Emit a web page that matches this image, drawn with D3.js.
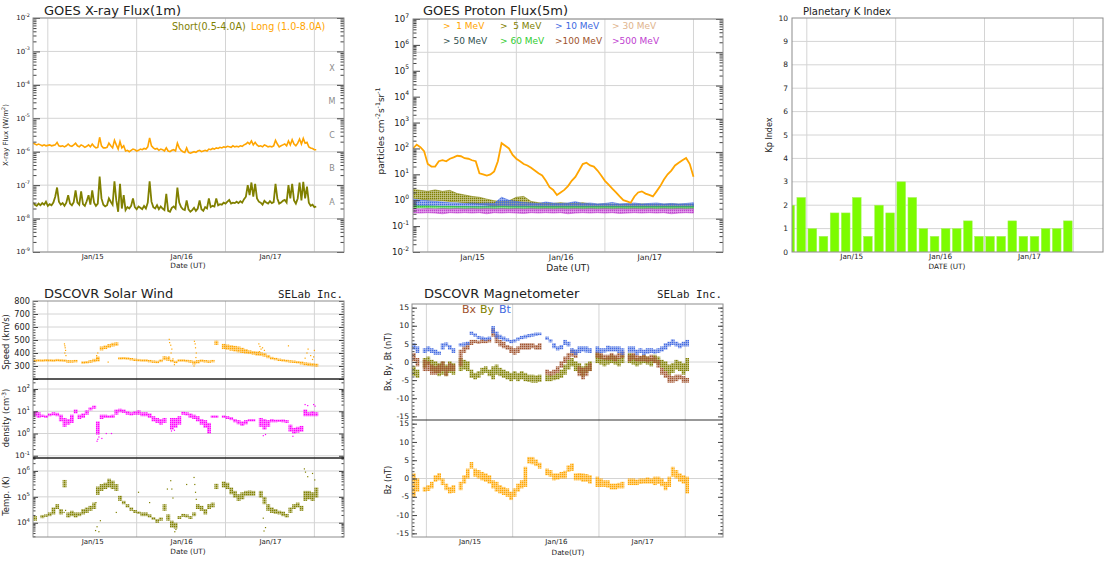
<!DOCTYPE html>
<html>
<head>
<meta charset="utf-8">
<script src="https://cdn.jsdelivr.net/npm/d3@7"></script>
<style>
body { margin: 0; background: #fff; }
svg text { font-family: "DejaVu Sans", sans-serif; fill: #222; }
</style>
</head>
<body>
<svg id="chart" width="1112" height="563"></svg>
<script>
// all series start Jan 14 20:00 UT, hour offsets from there
var T0 = Date.UTC(2018, 0, 14, 20);
function tAt(h) { return new Date(T0 + h * 3600e3); }

// GOES x-ray, every 30 min (short in 1e-8 W/m2, long in 1e-6 W/m2)
var xrayShort = [3.0,2.6,2.4,2.8,2.5,2.9,2.6,3.2,2.4,2.7,
  2.5,3.0,4.5,8.5,3.2,2.6,2.9,2.4,3.0,5.0,
  2.8,2.5,3.1,7.0,3.0,2.6,6.5,2.7,2.4,3.3,
  5.0,2.6,7.0,3.0,2.4,2.8,18,4.0,2.6,2.3,
  2.5,4.0,3.2,2.6,13,3.5,1.6,11,2.0,5.0,
  1.8,2.2,2.0,2.4,4.0,2.2,1.9,2.3,2.1,1.9,
  2.4,2.0,3.0,13,3.2,2.2,2.0,2.5,1.9,2.3,
  2.0,1.8,5.5,1.7,1.6,2.1,2.3,2.0,8.5,3.0,
  2.2,1.9,1.8,3.5,1.9,1.6,1.8,2.1,1.7,2.0,
  3.5,1.9,1.7,2.2,2.0,4.0,2.2,2.4,2.3,4.0,
  2.5,2.7,2.6,3.0,2.8,3.2,3.6,2.8,3.0,2.9,
  3.2,2.9,3.3,3.0,3.8,4.5,10,5.0,12,4.5,
  11,4.0,3.2,3.0,2.6,3.4,3.0,2.8,3.3,2.9,
  3.1,11,4.0,2.8,3.0,3.4,3.6,3.0,10,4.0,
  11,3.5,2.8,4.0,12,3.5,12.5,4.0,9.0,3.0,
  2.4,2.6,2.2,2.3];
var xrayLong = [1.8,1.7,1.6,1.7,1.6,1.5,1.6,1.5,1.55,1.6,
  1.5,1.55,1.6,1.9,1.5,1.45,1.5,1.4,1.5,1.7,
  1.5,1.45,1.6,1.8,1.5,1.4,1.6,1.5,1.35,1.45,
  1.6,1.4,1.7,1.45,1.3,1.35,2.7,1.5,1.3,1.3,
  1.35,1.8,1.5,1.3,2.2,1.6,1.2,2.0,1.3,1.5,
  1.05,1.1,1.0,1.1,1.2,1.15,1.05,1.1,1.2,1.15,
  1.25,1.2,1.4,2.6,1.5,1.3,1.2,1.25,1.1,1.2,
  1.15,1.05,1.3,1.05,1.0,1.1,1.15,1.05,1.8,1.3,
  1.1,1.0,0.95,1.3,0.95,0.9,0.95,1.0,0.95,1.05,
  1.1,1.0,1.05,1.1,1.05,1.2,1.15,1.25,1.2,1.3,
  1.25,1.35,1.3,1.4,1.35,1.45,1.4,1.35,1.5,1.4,
  1.45,1.4,1.5,1.45,1.6,1.7,1.9,1.7,2.1,1.6,
  1.9,1.6,1.45,1.5,1.4,1.6,1.5,1.4,1.45,1.4,
  1.5,2.2,1.7,1.4,1.5,1.6,1.7,1.5,2.1,1.6,
  2.3,1.7,1.5,1.8,2.4,1.7,2.5,1.8,1.9,1.4,
  1.3,1.25,1.15,1.15];
var xrayClasses = ["A", "B", "C", "M", "X"];

// GOES proton >1 MeV, hourly
var p1 = [100,141,112,79,25,20,20,32,35,32,
  40,45,52,50,42,40,35,32,11,10,
  9,10,13,32,160,126,100,56,40,32,
  25,22,18,14,11,9,5.6,3.2,2.5,1.6,
  2.0,2.5,3.5,5.6,8,14,25,28,22,20,
  14,9,5.6,4,2.8,2.0,1.4,1.0,0.9,0.8,
  1.4,2.0,2.2,1.8,1.6,1.4,2.2,3.5,6.3,10,
  14,22,28,35,43,25,8];
// other channels, 2-hourly low/high of the noisy trace
var p5Lo = [1.2,1.1,1.0,1.0,0.95,0.9,0.85,0.8,0.75,0.7,0.65,0.6,0.58,0.58,0.58,0.58,0.56,0.55,0.55,0.55,0.55,0.55,0.55,0.55,0.55,0.55,0.55,0.55,0.55,0.55,0.55,0.55,0.55,0.55,0.55,0.55,0.55,0.55,0.55];
var p5Hi = [2.6,2.4,2.2,2.5,2.2,2.4,1.8,1.6,1.4,1.3,1.1,0.95,0.9,0.95,1.3,1.4,0.9,0.8,0.75,0.75,0.8,0.75,0.75,0.8,0.72,0.7,0.72,0.7,0.7,0.7,0.7,0.72,0.7,0.7,0.7,0.72,0.7,0.7,0.7];
var p10Lo = [0.6,0.6,0.6,0.58,0.56,0.56,0.55,0.55,0.55,0.55,0.55,0.55,0.56,0.56,0.55,0.55,0.55,0.55,0.55,0.55,0.55,0.55,0.55,0.55,0.55,0.55,0.55,0.55,0.55,0.55,0.55,0.55,0.55,0.55,0.55,0.55,0.55,0.55,0.55];
var p10Hi = [1.1,1.0,0.95,0.9,0.85,0.8,0.78,0.75,0.78,0.75,0.78,0.75,1.3,1.0,0.9,0.82,0.78,0.75,0.85,0.78,0.75,0.78,0.88,0.75,0.78,0.72,0.75,0.82,0.72,0.75,0.78,0.72,0.75,0.78,0.72,0.75,0.72,0.75,0.8];
var p60Lo = [0.5,0.5,0.49,0.49,0.48,0.48,0.48,0.47,0.47,0.47,0.47,0.47,0.47,0.47,0.47,0.47,0.47,0.47,0.47,0.47,0.47,0.47,0.47,0.47,0.47,0.47,0.47,0.47,0.47,0.47,0.47,0.47,0.47,0.47,0.47,0.47,0.47,0.47,0.47];
var p60Hi = [0.62,0.6,0.6,0.59,0.58,0.58,0.57,0.57,0.56,0.56,0.56,0.56,0.57,0.56,0.56,0.56,0.56,0.56,0.56,0.56,0.56,0.56,0.56,0.56,0.56,0.56,0.56,0.56,0.56,0.56,0.56,0.56,0.56,0.56,0.56,0.56,0.56,0.56,0.56];
var p500Lo = [0.33,0.32,0.33,0.32,0.3,0.33,0.32,0.33,0.32,0.33,0.3,0.33,0.32,0.33,0.32,0.31,0.33,0.32,0.33,0.32,0.33,0.3,0.32,0.33,0.32,0.33,0.32,0.33,0.31,0.32,0.33,0.32,0.33,0.32,0.33,0.3,0.32,0.33,0.32];
var p500Hi = [0.47,0.46,0.47,0.46,0.47,0.46,0.47,0.46,0.47,0.46,0.47,0.46,0.47,0.46,0.47,0.46,0.47,0.46,0.47,0.46,0.47,0.46,0.47,0.46,0.47,0.46,0.47,0.46,0.47,0.46,0.47,0.46,0.47,0.46,0.47,0.46,0.47,0.46,0.47];
var protonLabels = [">\u00a0\u00a01 MeV", ">\u00a0\u00a05 MeV", "> 10 MeV", "> 30 MeV",
                    "> 50 MeV", "> 60 MeV", ">100 MeV", ">500 MeV"];
var protonColors = ["#ffa500", "#808000", "#4169e1", "#e0b48c",
                    "#2f4f4f", "#32cd32", "#a0522d", "#c040d0"];

// planetary K index, 3-hour bins starting Jan 14 18:00
var kp = [2, 2.33, 1, 0.67, 1.67, 1.67, 2.33, 0.67, 2, 1.67,
          3, 2.33, 1, 0.67, 1, 1, 1.33, 0.67, 0.67, 0.67,
          1.33, 0.67, 0.67, 1, 1, 1.33];

// DSCOVR solar wind, hourly low/high of the scatter (null = no data)
var speedLo = [330,335,335,338,336,335,338,336,332,325,
  328,330,null,318,320,325,330,335,420,430,
  440,450,455,350,352,350,345,340,338,335,
  335,330,325,322,330,345,340,330,322,335,
  335,330,325,312,320,330,328,325,330,462,
  null,430,425,418,412,405,400,395,392,388,
  380,378,372,360,350,345,340,335,330,328,
  325,320,312,305,300,298,295];
var speedHi = [350,350,348,350,350,348,352,350,350,345,
  342,345,null,335,338,345,355,372,450,458,
  468,478,482,368,368,365,360,355,352,350,
  350,345,342,340,350,375,370,348,340,350,
  350,348,345,340,345,350,345,342,345,495,
  null,470,465,460,455,450,440,430,420,415,
  412,405,400,385,370,362,355,352,348,342,
  340,338,335,328,325,322,318];
var speedOut = [[8.5,470],[8.6,455],[8.7,440],[8.8,420],[8.6,400],[8.9,380],[20.3,330],[17.2,380],
  [17.5,400],[17.4,360],[36.8,505],[36.9,480],[37.2,460],[37.5,430],[37.3,400],[36.7,370],
  [37.8,355],[38.2,310],[43.6,490],[43.8,470],[43.9,440],[44.1,400],[44.0,365],[43.5,300],
  [61,470],[61.3,450],[61.6,430],[61.2,410],[62,440],[62.5,420],[73.5,360],[74,400],
  [74.3,430],[75,380],[75.5,350],[76,420],[75.8,370],[69,455]];
var densLo = [6,5,5.5,5,6,6.5,6,3.5,2,2.5, 3,8,4.5,5,7,11,13,0.9,4.5,5,
  5,5,7,9,8.5,7,6.5,7,7,6, 6,5,3.5,3,2.5,3,null,1.5,1.8,2.5,
  7,6.5,5,4.5,3.5,2.5,1.8,1.0,5,5, null,5,4.5,4,3.2,2.6,2.2,2.6,3.5,3.5,
  null,2,1.5,2,3.2,3.2,3.3,3.2,3,1.2, 1.0,1.1,1.2,6,6,6,6];
var densHi = [10,9,7,6.5,8,9,8.5,7,5,4.5, 7,12,7,8,11,15,18,3.5,7,7,
  6.5,7,12,13,12,10,9,10,11,9, 9,8,6,5,4.5,5,null,5,5,6,
  9.5,9,8,7,6,4.5,4,3,6.5,6.5, null,6.5,6,5.5,4.5,4,3.5,4,4.5,4.5,
  null,5,4.5,4,4.5,4.2,4.2,4.3,4,2.5, 1.8,2,2.2,12,9,10,9];
var densOut = [[17.3,0.45],[17.5,0.55],[17.8,0.7],[18.6,0.6],[19.8,1.0],[21.2,1.0],[37.4,1.3],
  [38.2,1.4],[62.2,0.8],[62.8,0.9],[73.5,20],[74.2,18],[75.8,20],[76.2,17],[70.2,0.75]];
var tempLo = [12000,null,15000,17000,18000,21000,34000,21000,230000,16000,
  18000,16000,18000,21000,24000,29000,34000,120000,170000,200000,
  230000,200000,170000,70000,52000,39000,29000,24000,22000,18000,
  18000,16000,13000,10000,12000,29000,12000,6500,6000,14000,
  17000,16000,14000,18000,34000,29000,21000,34000,39000,200000,
  null,230000,200000,126000,93000,70000,80000,110000,110000,110000,
  null,93000,52000,29000,24000,22000,21000,18000,16000,24000,
  34000,39000,29000,70000,80000,70000,93000];
var tempHi = [18000,null,20000,21000,25000,39000,52000,34000,450000,25000,
  29000,25000,25000,34000,39000,45000,60000,250000,310000,350000,
  500000,420000,310000,110000,70000,52000,39000,31000,27000,25000,
  25000,21000,16500,14000,16000,52000,21000,12000,10000,18000,
  22000,21000,18000,25000,52000,45000,34000,52000,60000,320000,
  null,390000,350000,230000,170000,126000,150000,170000,175000,170000,
  null,170000,100000,52000,39000,34000,29000,27000,22000,39000,
  52000,60000,45000,170000,170000,150000,230000];
var tempOut = [[8.4,25000],[8.8,30000],[16.9,5000],[17.3,7000],[17.8,4500],[18.2,12000],[17,60000],
  [22.5,25000],[37.2,420000],[37.5,200000],[37.8,90000],[38.3,4500],[38.6,5500],[43.5,560000],
  [43.7,300000],[43.9,150000],[44.1,80000],[62.4,4800],[62.8,6500],[62.2,15000],[73.3,1200000],
  [73.6,900000],[74.2,600000],[75.5,800000],[76.1,450000],[28.5,150000],[31.5,60000],
  [41.5,300000],[36.3,200000]];

// DSCOVR magnetometer, hourly low/high in nT
var btLo = [3.4,2.5,null,2.5,2.9,2.5,2.0,2.0,3.4,4.3, 3.4,2.5,null,4.3,4.3,4.7,7.5,7.0,6.3,6.1,
  5.9,6.1,7.9,6.5,6.3,5.9,5.6,5.2,5.4,5.9, 6.3,6.5,6.8,7.0,7.2,7.4,null,6.1,5.4,3.8,
  3.2,3.5,4.7,4.3,2.5,2.0,2.5,2.9,2.6,2.5, null,2.6,2.5,2.6,2.9,2.9,2.9,2.5,2.0,null,
  2.6,2.6,2.0,2.5,2.0,2.3,2.5,2.3,2.5,2.9, 3.4,4.3,4.7,4.3,3.8,4.3,4.3];
var btHi = [5.2,4.3,null,3.8,4.3,3.8,3.4,2.9,5.2,5.4, 4.7,3.8,null,5.2,5.4,5.6,8.4,7.9,7.2,7.0,
  6.8,7.0,9.9,8.4,7.5,7.0,6.5,6.1,6.3,6.8, 7.2,7.5,7.7,7.9,8.1,8.1,null,7.0,6.3,5.2,
  4.3,4.7,6.1,5.6,3.8,3.5,4.3,4.3,4.3,3.8, null,4.3,3.8,3.8,4.5,4.3,4.3,4.3,3.8,null,
  4.3,4.3,3.4,3.8,3.4,3.8,3.8,3.5,3.8,4.3, 5.2,5.6,6.3,5.6,5.2,5.6,6.1];
var bxLo = [0.2,-1.2,null,-2.5,-2.5,-3.5,-3.5,-3.0,-2.5,-3.9, -2.5,-2.5,null,-1.2,2.5,3.4,4.7,5.2,5.0,5.2,
  5.2,5.4,7.0,5.2,4.3,3.8,3.4,2.5,2.0,2.5, 3.4,3.4,3.4,3.8,3.4,3.4,null,-3.5,-3.9,-3.5,
  -3.0,-1.6,-0.3,0.6,1.5,1.1,-3.9,-4.8,-3.9,-2.5, null,1.1,0.8,0.6,0.5,0.6,0.2,0.8,1.1,null,
  0.2,0.6,0.2,0.2,0.2,-0.1,0.2,-0.3,-1.6,-3.5, -4.4,-5.7,-5.7,-5.3,-4.8,-5.7,-5.7];
var bxHi = [2.5,1.1,null,0.6,0.2,-0.7,-1.2,-0.7,0.2,-1.2, -0.3,-0.7,null,3.4,4.3,5.2,6.1,6.1,5.9,6.3,
  6.1,6.3,9.3,7.5,6.1,5.6,4.7,4.3,3.8,4.3, 5.2,5.2,5.2,5.2,4.7,5.2,null,-2.1,-2.5,-2.1,
  -1.2,0.2,1.5,2.5,3.4,2.9,-1.2,-1.6,-1.2,-0.3, null,2.9,2.5,2.0,2.0,2.5,2.0,2.5,2.9,null,
  2.0,2.5,2.0,1.7,2.0,1.5,2.0,1.5,0.6,-1.6, -2.5,-3.5,-3.9,-3.5,-3.5,-3.9,-4.4];
var byLo = [-3.9,-4.4,null,-1.6,-0.7,-2.5,-3.0,-3.9,-3.5,-3.9, -3.0,-3.5,null,-2.5,-2.1,-2.5,-4.4,-4.8,-4.4,-3.5,
  -3.0,-3.9,-4.8,-3.5,-3.9,-4.4,-4.8,-5.3,-4.8,-5.3, -4.8,-5.3,-5.5,-5.7,-5.7,-5.5,null,-5.3,-5.3,-5.0,
  -4.8,-4.4,-3.5,-2.1,-1.2,-2.5,-3.0,-3.9,-3.0,-2.5, null,-0.3,-0.7,-1.2,-0.7,-0.3,-0.7,-1.2,-0.3,null,
  -0.3,-0.7,-1.2,-0.7,-0.3,-0.7,-1.2,-0.3,-0.7,-1.6, -2.5,-3.5,-3.0,-2.1,-2.5,-3.5,-2.5];
var byHi = [-1.2,-2.1,null,1.1,1.5,0.6,0.2,-0.3,0.2,-0.7, 0.2,-0.3,null,1.1,0.6,0.2,-2.1,-3.0,-2.5,-1.6,
  -1.2,-2.1,-1.2,-0.7,-1.6,-2.1,-2.5,-3.0,-2.5,-3.0, -2.5,-3.0,-3.5,-3.5,-3.7,-3.5,null,-3.5,-3.7,-3.5,
  -3.0,-2.1,-0.7,0.6,1.1,0.2,-0.3,-1.2,-0.3,0.2, null,2.5,2.0,1.1,1.5,2.0,1.5,1.1,2.0,null,
  2.5,2.0,1.1,1.5,2.0,1.5,1.1,2.0,1.5,0.6, 0.2,-0.7,-0.3,0.6,0.2,-0.3,1.1];
var bzLo = [-5.0,-3.6,null,-3.6,-3.4,-2.7,-0.9,-0.5,-1.8,-3.2, -4.1,-3.9,null,-3.2,-1.4,0,2.7,0.5,0,-0.5,
  -0.9,-1.4,-2.7,-3.6,-4.1,-4.5,-5.0,-5.9,-5.0,-3.6, -2.7,-2.3,4.1,3.9,3.4,2.7,null,0.9,0.5,-0.5,
  -0.3,0,0,1.8,2.1,-0.5,-0.5,-0.9,-0.9,-1.4, null,-2.3,-2.3,-2.3,-2.5,-3.0,-3.0,-2.7,-2.7,null,
  -1.8,-1.8,-1.8,-1.5,-1.4,-1.4,-1.4,-1.8,-1.5,-2.1, -3.2,-2.3,0.5,0,-0.9,-1.4,-4.1];
var bzHi = [1.4,0,null,-2.3,-1.8,-0.9,0.9,1.5,0,-1.4, -2.3,-1.8,null,-0.9,0.9,2.7,4.5,2.7,2.3,1.8,
  1.4,0.9,-0.5,-0.9,-1.8,-2.3,-2.7,-3.6,-2.7,-1.4, -0.5,3.2,5.9,5.9,5.2,4.3,null,2.7,2.3,1.4,
  1.4,1.8,2.1,3.6,4.1,1.4,1.5,1.4,1.2,0.9, null,0.5,0,-0.5,-0.5,-1.4,-1.4,-1.2,-0.9,null,
  0,0,-0.3,0,0,0.3,0,0.5,0.5,0, -0.9,0.5,3.2,2.3,1.4,0.9,0.5];

var svg = d3.select("#chart");
var defs = svg.append("defs");
var GRID = "#d4d4d4", FRAME = "#8c8c8c";

var dayEdges = d3.utcDay.range(tAt(0.1), tAt(84));
var dayMids = dayEdges.slice(0, 3).map(function(d) { return d3.utcHour.offset(d, 12); });

// grainy fill so the scatter bands read as dots rather than solid blocks
function grain(id, color) {
  var p = defs.append("pattern").attr("id", id).attr("patternUnits", "userSpaceOnUse")
              .attr("width", 2).attr("height", 2);
  p.append("rect").attr("width", 1.6).attr("height", 1.6).attr("fill", color);
  p.append("rect").attr("x", 1.6).attr("y", 1.6).attr("width", 0.4).attr("height", 0.4).attr("fill", color);
  return "url(#" + id + ")";
}

function clip(id, x0, y0, x1, y1) {
  defs.append("clipPath").attr("id", id).append("rect")
      .attr("x", x0).attr("y", y0).attr("width", x1 - x0).attr("height", y1 - y0);
  return svg.append("g").attr("clip-path", "url(#" + id + ")");
}

function vGrid(x, y0, y1, edges) {
  svg.append("g").selectAll("line").data(edges || dayEdges).join("line")
     .attr("x1", function(d) { return x(d); }).attr("x2", function(d) { return x(d); })
     .attr("y1", y0).attr("y2", y1).attr("stroke", GRID);
}

function hGrid(vals, y, x0, x1) {
  svg.append("g").selectAll("line").data(vals).join("line")
     .attr("x1", x0).attr("x2", x1)
     .attr("y1", function(d) { return y(d); }).attr("y2", function(d) { return y(d); })
     .attr("stroke", GRID);
}

function frame(x0, y0, x1, y1, color) {
  svg.append("rect").attr("x", x0).attr("y", y0).attr("width", x1 - x0).attr("height", y1 - y0)
     .attr("fill", "none").attr("stroke", color || FRAME);
}

function logVals(y) {
  var dom = y.domain(), lo = Math.log10(dom[0]), hi = Math.log10(dom[1]);
  var majors = [], minors = [];
  for (var e = Math.floor(lo); e <= Math.ceil(hi); e++) {
    if (e >= lo - 1e-9 && e <= hi + 1e-9) majors.push(Math.pow(10, e));
    for (var k = 2; k < 10; k++) {
      var v = k * Math.pow(10, e);
      if (Math.log10(v) > lo && Math.log10(v) < hi) minors.push(v);
    }
  }
  return {majors: majors, minors: minors};
}

// inward ticks on both sides of a plot
function sideTicks(y, x0, x1, majors, minors, majLen, minLen, yR) {
  [[d3.axisLeft, x0, y], [d3.axisRight, x1, yR || y]].forEach(function(a) {
    var lv = yR && a[2] === yR ? logVals(yR) : {majors: majors, minors: minors};
    [[lv.majors, majLen], [lv.minors, minLen]].forEach(function(t) {
      svg.append("g").attr("transform", "translate(" + a[1] + ",0)").attr("color", "#444")
         .call(a[0](a[2]).tickValues(t[0]).tickSize(-t[1]).tickFormat(""))
         .call(function(g) { g.select(".domain").remove(); });
    });
  });
}

function logLabels(y, x, size) {
  var t = svg.append("g").selectAll("text").data(logVals(y).majors).join("text")
     .attr("x", x).attr("y", function(d) { return y(d); }).attr("dy", "0.35em")
     .attr("text-anchor", "end").style("font-size", size + "px");
  t.append("tspan").text("10");
  t.append("tspan").attr("dy", -size * 0.5).style("font-size", (size * 0.7) + "px")
   .text(function(d) { return Math.round(Math.log10(d)); });
}

function linLabels(vals, y, x, size) {
  svg.append("g").selectAll("text").data(vals).join("text")
     .attr("x", x).attr("y", function(d) { return y(d); }).attr("dy", "0.35em")
     .attr("text-anchor", "end").style("font-size", size + "px").text(function(d) { return d; });
}

function timeAxis(x, yb, size, ticks, title, titleX, titleY, titleSize) {
  svg.append("g").attr("transform", "translate(0," + yb + ")")
     .call(d3.axisBottom(x).tickValues(ticks).tickSize(0).tickPadding(2)
             .tickFormat(d3.utcFormat("%b/%d")))
     .call(function(g) {
       g.select(".domain").remove();
       g.selectAll("text").style("font-size", size + "px").attr("fill", "#222")
        .style("font-family", "DejaVu Sans");
     });
  svg.append("text").attr("x", titleX).attr("y", titleY).attr("text-anchor", "middle")
     .style("font-size", titleSize + "px").text(title);
}

// rotated axis title; arrays in parts are superscripts
function yTitle(x, y, size, parts) {
  var t = svg.append("text").attr("transform", "translate(" + x + "," + y + ") rotate(-90)")
     .attr("text-anchor", "middle").style("font-size", size + "px");
  var shift = 0;
  parts.forEach(function(p) {
    if (typeof p === "string") {
      t.append("tspan").attr("dy", shift).text(p);
      shift = 0;
    } else {
      t.append("tspan").attr("dy", -size * 0.4 + shift).style("font-size", (size * 0.7) + "px").text(p[0]);
      shift = size * 0.4;
    }
  });
}

function title(x, y, size, txt) {
  svg.append("text").attr("x", x).attr("y", y).style("font-size", size + "px").text(txt);
}

function selab(xr, y) {
  svg.append("text").attr("x", xr).attr("y", y).attr("text-anchor", "end")
     .style("font-family", "'DejaVu Sans Mono', monospace").style("font-size", "10.8px")
     .text("SELab Inc.");
}

// hourly low/high bins drawn as grainy blocks
function bands(g, x, y, lo, hi, fill, step) {
  var rows = lo.map(function(v, i) { return {i: i, lo: v, hi: hi[i]}; })
               .filter(function(d) { return d.lo != null; });
  g.append("g").selectAll("rect").data(rows).join("rect")
   .attr("x", function(d) { return x(tAt(d.i * step)); })
   .attr("width", function(d) { return x(tAt((d.i + 1) * step)) - x(tAt(d.i * step)) + 0.2; })
   .attr("y", function(d) {
     var a = y(d.hi), b = y(d.lo);
     return b - a < 2.4 ? (a + b) / 2 - 1.2 : a;
   })
   .attr("height", function(d) { return Math.max(y(d.lo) - y(d.hi), 2.4); })
   .attr("fill", fill);
}

function dots(g, x, y, pts, color) {
  g.append("g").selectAll("rect").data(pts).join("rect")
   .attr("x", function(d) { return x(tAt(d[0])) - 0.6; })
   .attr("y", function(d) { return y(d[1]) - 0.6; })
   .attr("width", 1.2).attr("height", 1.2).attr("fill", color);
}

/* ---------- GOES X-ray ---------- */
var xX = d3.scaleUtc().domain([tAt(0), tAt(84)]).range([33, 344]);
var yX = d3.scaleLog().domain([1e-9, 1e-2]).range([252, 18]);
var lvX = logVals(yX);
hGrid(lvX.majors, yX, 33, 344);
vGrid(xX, 18, 252);
var gX = clip("clipX", 33, 18, 344, 252);
gX.append("path").datum(xrayShort)
  .attr("d", d3.line().x(function(d, i) { return xX(tAt(i * 0.5)); }).y(function(d) { return yX(d * 1e-8); }))
  .attr("fill", "none").attr("stroke", "#808000").attr("stroke-width", 1.8);
gX.append("path").datum(xrayLong)
  .attr("d", d3.line().x(function(d, i) { return xX(tAt(i * 0.5)); }).y(function(d) { return yX(d * 1e-6); }))
  .attr("fill", "none").attr("stroke", "#ffa500").attr("stroke-width", 1.6);
sideTicks(yX, 33, 344, lvX.majors, lvX.minors, 7, 3.5);
frame(33, 18, 344, 252);
logLabels(yX, 30, 7);
svg.append("g").selectAll("text").data(xrayClasses).join("text")
   .attr("x", 332).attr("y", function(d, i) { return yX(Math.pow(10, -8 + i) * 3.16); })
   .attr("dy", "0.35em").attr("text-anchor", "middle").style("font-size", "8px")
   .style("fill", "#8a8a8a").text(function(d) { return d; });
svg.append("text").attr("x", 172).attr("y", 29.5).style("font-size", "9.6px")
   .style("fill", "#808000").text("Short(0.5-4.0A)");
svg.append("text").attr("x", 251).attr("y", 29.5).style("font-size", "9.6px")
   .style("fill", "#ffa500").text("Long (1.0-8.0A)");
title(44, 15, 13, "GOES X-ray Flux(1m)");
timeAxis(xX, 252, 7, dayMids, "Date (UT)", 188, 268, 7.3);
yTitle(8, 135, 7, ["X-ray Flux (W/m", ["2"], ")"]);

/* ---------- GOES proton ---------- */
var xP = d3.scaleUtc().domain([tAt(0), tAt(84)]).range([413, 723]);
var yP = d3.scaleLog().domain([1e-2, 1e7]).range([252, 19]);
// right-hand axis and grid follow the x-ray decades
var yP2 = d3.scaleLog().domain([1e-9, 1e-2]).range([252, 19]);
var lvP = logVals(yP);
hGrid(logVals(yP2).majors, yP2, 413, 723);
vGrid(xP, 19, 252);
var gP = clip("clipP", 413, 19, 723, 252);
[[p5Lo, p5Hi, "#808000"], [p10Lo, p10Hi, "#4169e1"], [p60Lo, p60Hi, "#32cd32"], [p500Lo, p500Hi, "#c040d0"]]
  .forEach(function(s, k) {
    gP.append("path").datum(d3.zip(s[0], s[1]))
      .attr("d", d3.area().x(function(d, i) { return xP(tAt(i * 2)); })
                  .y0(function(d) { return yP(d[0]); }).y1(function(d) { return yP(d[1]); }))
      .attr("fill", grain("pg" + k, s[2])).attr("stroke", s[2]).attr("stroke-width", 0.6);
  });
gP.append("path").datum(p1)
  .attr("d", d3.line().x(function(d, i) { return xP(tAt(i)); }).y(function(d) { return yP(d); }))
  .attr("fill", "none").attr("stroke", "#ffa500").attr("stroke-width", 1.8);
sideTicks(yP, 413, 723, lvP.majors, lvP.minors, 7, 3.5, yP2);
frame(413, 19, 723, 252);
logLabels(yP, 409, 8.6);
var legX = [443, 500, 555, 612];
svg.append("g").selectAll("text").data(protonLabels).join("text")
   .attr("x", function(d, i) { return legX[i % 4]; })
   .attr("y", function(d, i) { return i < 4 ? 29 : 43.5; })
   .style("font-size", "9px").style("fill", function(d, i) { return protonColors[i]; })
   .text(function(d) { return d; });
title(423, 15, 13, "GOES Proton Flux(5m)");
timeAxis(xP, 252, 7.8, dayMids, "Date (UT)", 568, 271, 9);
yTitle(384, 131, 9, ["particles cm", ["-2"], "s", ["-1"], "sr", ["-1"]]);

/* ---------- Kp ---------- */
var xK = d3.scaleUtc().domain([tAt(0), tAt(84)]).range([792, 1103]);
var yK = d3.scaleLinear().domain([0, 10]).range([252, 18]);
hGrid(d3.range(1, 10), yK, 792, 1103);
vGrid(xK, 18, 252);
var gK = clip("clipK", 792, 18, 1103, 252);
gK.append("g").selectAll("rect").data(kp).join("rect")
  .attr("x", function(d, i) { return xK(tAt(-2 + 3 * i)) + 1.2; })
  .attr("width", function(d, i) { return xK(tAt(1 + 3 * i)) - xK(tAt(-2 + 3 * i)) - 2.4; })
  .attr("y", function(d) { return yK(d); })
  .attr("height", function(d) { return yK(0) - yK(d); })
  .attr("fill", "#7cfc00").attr("stroke", "#a8f060").attr("stroke-width", 0.5);
frame(792, 18, 1103, 252);
linLabels(d3.range(0, 11), yK, 788, 7.5);
title(803, 15, 10, "Planetary K Index");
timeAxis(xK, 252, 7.3, dayMids, "DATE (UT)", 947, 269, 7.3);
yTitle(772, 135, 8, ["Kp Index"]);

/* ---------- DSCOVR solar wind ---------- */
var xS = d3.scaleUtc().domain([tAt(0), tAt(84)]).range([33, 344]);
var ySp = d3.scaleLinear().domain([200, 800]).range([379, 301]);
var yDn = d3.scaleLog().domain([Math.pow(10, -1.1), Math.pow(10, 2.45)]).range([458, 379]);
var yTm = d3.scaleLog().domain([Math.pow(10, 3.45), Math.pow(10, 6.5)]).range([537, 458]);
var lvDn = logVals(yDn), lvTm = logVals(yTm);
hGrid(d3.range(300, 800, 100), ySp, 33, 344);
hGrid(lvDn.majors, yDn, 33, 344);
hGrid(lvTm.majors, yTm, 33, 344);
vGrid(xS, 301, 537);
var gS = clip("clipS", 33, 301, 344, 537);
bands(gS, xS, ySp, speedLo, speedHi, grain("gSp", "#ffa500"), 1);
dots(gS, xS, ySp, speedOut, "#ffa500");
bands(gS, xS, yDn, densLo, densHi, grain("gDn", "#ff00ff"), 1);
dots(gS, xS, yDn, densOut, "#ff00ff");
bands(gS, xS, yTm, tempLo, tempHi, grain("gTm", "#808000"), 1);
dots(gS, xS, yTm, tempOut, "#808000");
sideTicks(ySp, 33, 344, d3.range(200, 801, 100), d3.range(200, 800, 20), 5, 2.5);
sideTicks(yDn, 33, 344, lvDn.majors, lvDn.minors, 5, 2.5);
sideTicks(yTm, 33, 344, lvTm.majors, lvTm.minors, 5, 2.5);
frame(33, 301, 344, 537);
[379, 458].forEach(function(yy) {
  svg.append("line").attr("x1", 33).attr("x2", 344).attr("y1", yy).attr("y2", yy)
     .attr("stroke", "#222").attr("stroke-width", 1.4);
});
linLabels(d3.range(300, 801, 100), ySp, 30, 8.2);
logLabels(yDn, 30, 7.6);
logLabels(yTm, 30, 7.6);
title(44, 297.5, 13, "DSCOVR Solar Wind");
selab(343, 298);
timeAxis(xS, 537, 7, dayMids, "Date (UT)", 188, 554, 7.3);
yTitle(9, 342, 8.4, ["Speed (km/s)"]);
yTitle(9, 418, 8.4, ["density (cm", ["-3"], ")"]);
yTitle(9, 496, 8.4, ["Temp. (K)"]);

/* ---------- DSCOVR magnetometer ---------- */
var xM = d3.scaleUtc().domain([tAt(0), tAt(86.5)]).range([412, 723]);
var yB = d3.scaleLinear().domain([-16, 16]).range([420, 304]);
var yZ = d3.scaleLinear().domain([-16, 16]).range([537, 420]);
var magEdges = d3.utcDay.range(tAt(0.1), tAt(86.5));
hGrid([0], yB, 412, 723);
hGrid([0], yZ, 412, 723);
vGrid(xM, 304, 537, magEdges);
var gM = clip("clipM", 412, 304, 723, 537);
bands(gM, xM, yB, byLo, byHi, grain("gBy", "#808000"), 1);
bands(gM, xM, yB, bxLo, bxHi, grain("gBx", "#a0522d"), 1);
bands(gM, xM, yB, btLo, btHi, grain("gBt", "#4169e1"), 1);
bands(gM, xM, yZ, bzLo, bzHi, grain("gBz", "#ffa500"), 1);
var bTicks = d3.range(-15, 16, 5), bMinor = d3.range(-15, 16, 1);
sideTicks(yB, 412, 723, bTicks, bMinor, 5, 2.5);
sideTicks(yZ, 412, 723, bTicks, bMinor, 5, 2.5);
frame(412, 304, 723, 537);
svg.append("line").attr("x1", 412).attr("x2", 723).attr("y1", 420).attr("y2", 420)
   .attr("stroke", "#333").attr("stroke-width", 1.2);
linLabels(bTicks, yB, 409, 7.6);
linLabels(bTicks, yZ, 409, 7.6);
var magLeg = [["Bx", "#a0522d", 462], ["By", "#808000", 480], ["Bt", "#4169e1", 499]];
svg.append("g").selectAll("text").data(magLeg).join("text")
   .attr("x", function(d) { return d[2]; }).attr("y", 313).style("font-size", "11px")
   .style("fill", function(d) { return d[1]; }).text(function(d) { return d[0]; });
title(424, 298, 13, "DSCOVR Magnetometer");
selab(722, 298);
timeAxis(xM, 537, 7, magEdges.slice(0, 3).map(function(d) { return d3.utcHour.offset(d, 12); }),
         "Date(UT)", 568, 555, 7.3);
yTitle(391, 362, 8, ["Bx, By, Bt (nT)"]);
yTitle(391, 480, 8, ["Bz (nT)"]);
</script>
</body>
</html>
